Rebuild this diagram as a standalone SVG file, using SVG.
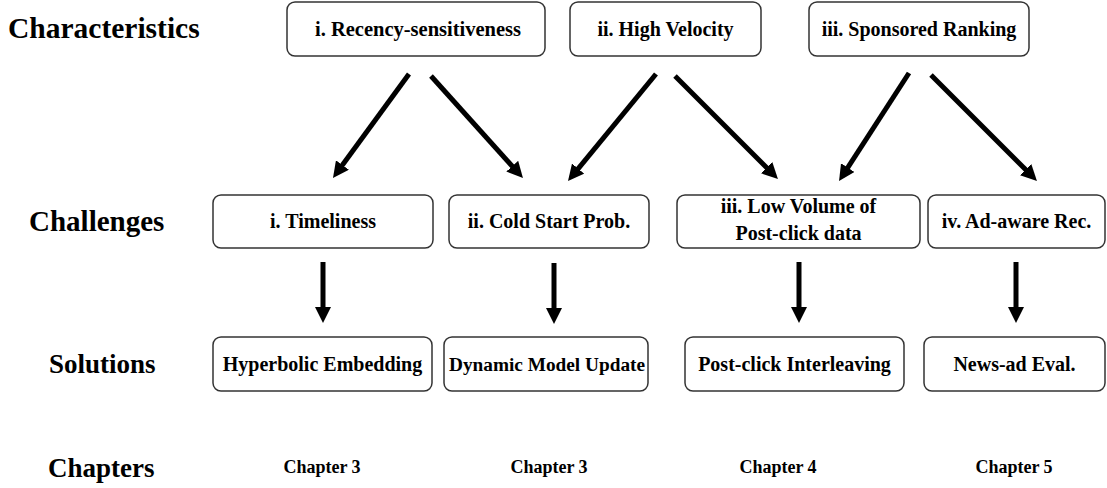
<svg xmlns="http://www.w3.org/2000/svg" width="1107" height="488" viewBox="0 0 1107 488">
<style>
.box{fill:#fff;stroke:#333;stroke-width:1.5}
text{font-family:'Liberation Serif','Times New Roman',Times,serif;font-weight:700;fill:#000}
.t{font-size:20px;text-anchor:middle}
.h{font-size:29px}
.h2{font-size:27px}
.c{font-size:18px;text-anchor:middle}
.a{stroke:#000;stroke-width:5;fill:none;marker-end:url(#ah)}
</style>
<defs>
<marker id="ah" viewBox="0 0 16 16" refX="8" refY="8" markerWidth="16" markerHeight="16" markerUnits="userSpaceOnUse" orient="auto">
<path d="M0,0 L16,8 L0,16 z" fill="#000"/>
</marker>
</defs>
<g id="row-labels">
<text class="h" x="8" y="38" style="font-size:29.5px">Characteristics</text>
<text class="h" x="29" y="231">Challenges</text>
<text class="h2" x="49" y="373">Solutions</text>
<text class="h2" x="48" y="477">Chapters</text>
</g>
<g id="char1"><rect class="box" x="287" y="2" width="258" height="54" rx="8"/><text class="t" x="418" y="36" style="font-size:20.5px">i. Recency-sensitiveness</text></g>
<g id="char2"><rect class="box" x="570" y="2" width="191" height="54" rx="8"/><text class="t" x="665.5" y="36">ii. High Velocity</text></g>
<g id="char3"><rect class="box" x="809" y="2" width="220" height="54" rx="8"/><text class="t" x="919" y="36">iii. Sponsored Ranking</text></g>
<g id="chal1"><rect class="box" x="213" y="195" width="220" height="53" rx="8"/><text class="t" x="323" y="228">i. Timeliness</text></g>
<g id="chal2"><rect class="box" x="449" y="195" width="200" height="53" rx="8"/><text class="t" x="549" y="228">ii. Cold Start Prob.</text></g>
<g id="chal3"><rect class="box" x="677" y="195" width="243" height="53" rx="8"/><text class="t" x="798.5" y="213">iii. Low Volume of</text><text class="t" x="798.5" y="240">Post-click data</text></g>
<g id="chal4"><rect class="box" x="928" y="195" width="177" height="53" rx="8"/><text class="t" x="1016.5" y="228">iv. Ad-aware Rec.</text></g>
<g id="sol1"><rect class="box" x="213" y="337" width="219" height="54" rx="8"/><text class="t" x="322.5" y="371">Hyperbolic Embedding</text></g>
<g id="sol2"><rect class="box" x="444" y="337" width="204" height="54" rx="8"/><text class="t" x="547" y="371" style="font-size:19.3px">Dynamic Model Update</text></g>
<g id="sol3"><rect class="box" x="685" y="337" width="219" height="54" rx="8"/><text class="t" x="794.5" y="371">Post-click Interleaving</text></g>
<g id="sol4"><rect class="box" x="924" y="337" width="181" height="54" rx="8"/><text class="t" x="1014.5" y="371">News-ad Eval.</text></g>
<g id="chapters">
<text class="c" x="322" y="473">Chapter 3</text>
<text class="c" x="549" y="473">Chapter 3</text>
<text class="c" x="778" y="473">Chapter 4</text>
<text class="c" x="1014" y="473">Chapter 5</text>
</g>
<g id="connectors">
<line class="a" x1="409" y1="74" x2="337.7" y2="171.5"/>
<line class="a" x1="431" y1="76" x2="517.6" y2="172.1"/>
<line class="a" x1="656" y1="74" x2="573.1" y2="174.8"/>
<line class="a" x1="675" y1="76" x2="772.3" y2="173.3"/>
<line class="a" x1="909" y1="73" x2="843.4" y2="174.3"/>
<line class="a" x1="931" y1="75" x2="1031.3" y2="175.3"/>
<line class="a" x1="323" y1="262" x2="323" y2="315"/>
<line class="a" x1="554" y1="263" x2="554" y2="316"/>
<line class="a" x1="799" y1="262" x2="799" y2="315"/>
<line class="a" x1="1016" y1="262" x2="1016" y2="315"/>
</g>
</svg>
